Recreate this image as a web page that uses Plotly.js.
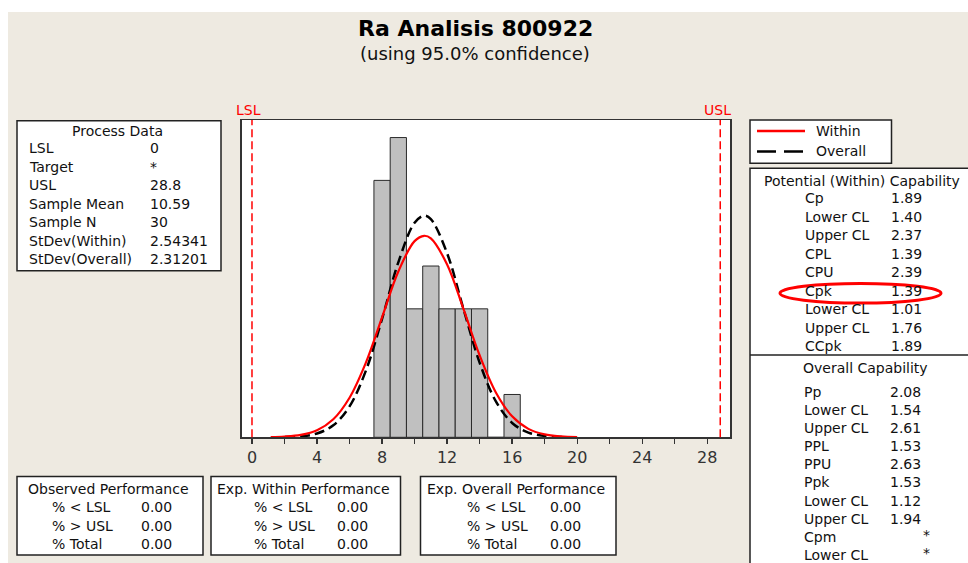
<!DOCTYPE html>
<html>
<head>
<meta charset="utf-8">
<script src="https://cdn.plot.ly/plotly-3.0.1.min.js"></script>
<style>html,body{margin:0;padding:0;background:#fff;}#chart{width:968px;height:563px;}</style>
</head>
<body>
<div id="chart"></div>
<script>
// ---------- data ----------
const chartTitle = 'Ra Analisis 800922';
const chartSubtitle = '(using 95.0% confidence)';

// histogram (bin centres, counts; bin width 1)
const binCenters = [8, 9, 10, 11, 12, 13, 14, 15, 16];
const binCounts  = [6, 7, 3, 4, 3, 3, 3, 0, 1];

// fitted curves (count scale)
const withinX = [1.15, 2, 3, 4, 5, 6, 7, 8, 9, 10, 10.59, 11, 12, 13, 14, 15, 16, 17, 18, 19, 20];
const withinY = [0.005, 0.016, 0.055, 0.164, 0.421, 0.924, 1.738, 2.802, 3.871, 4.581, 4.706, 4.645, 4.036, 3.004, 1.916, 1.047, 0.490, 0.197, 0.068, 0.020, 0.005];
const overallX = [2.03, 3, 4, 5, 6, 7, 8, 9, 10, 10.59, 11, 12, 13, 14, 15, 16, 17, 18, 19.05];
const overallY = [0.006, 0.024, 0.089, 0.279, 0.722, 1.551, 2.765, 4.087, 5.011, 5.177, 5.096, 4.298, 3.007, 1.745, 0.840, 0.335, 0.111, 0.031, 0.006];

// spec limits
const specNames  = ['LSL', 'USL'];
const specValues = [0, 28.8];

// x ticks
const xTickVals = [0, 4, 8, 12, 16, 20, 24, 28];

// legend
const legendNames = ['Within', 'Overall'];

// panels
const processTitle  = 'Process Data';
const processLabels = ['LSL', 'Target', 'USL', 'Sample Mean', 'Sample N', 'StDev(Within)', 'StDev(Overall)'];
const processValues = ['0', '*', '28.8', '10.59', '30', '2.54341', '2.31201'];

const potentialTitle  = 'Potential (Within) Capability';
const potentialLabels = ['Cp', 'Lower CL', 'Upper CL', 'CPL', 'CPU', 'Cpk', 'Lower CL', 'Upper CL', 'CCpk'];
const potentialValues = ['1.89', '1.40', '2.37', '1.39', '2.39', '1.39', '1.01', '1.76', '1.89'];

const overallTitle  = 'Overall Capability';
const overallLabels = ['Pp', 'Lower CL', 'Upper CL', 'PPL', 'PPU', 'Ppk', 'Lower CL', 'Upper CL', 'Cpm', 'Lower CL'];
const overallValues = ['2.08', '1.54', '2.61', '1.53', '2.63', '1.53', '1.12', '1.94', '*', '*'];

const perfTitles = ['Observed Performance', 'Exp. Within Performance', 'Exp. Overall Performance'];
const perfLabels = ['% &lt; LSL', '% &gt; USL', '% Total'];
const perfObserved = ['0.00', '0.00', '0.00'];
const perfWithin   = ['0.00', '0.00', '0.00'];
const perfOverall  = ['0.00', '0.00', '0.00'];

// ---------- layout helpers ----------
const W = 968, H = 563;
const px = x => x / W;
const py = y => 1 - y / H;
const FONT = 'DejaVu Sans, Verdana, sans-serif';
const BG = '#EEEAE1';
const TXT = '#111';

const plotL = 241.7, plotR = 730, plotT = 120, plotB = 437.3;

const shapes = [];
const annotations = [];

function box(x0, y0, x1, y1) {
  shapes.push({type: 'rect', xref: 'paper', yref: 'paper', x0: px(x0), x1: px(x1), y0: py(y1), y1: py(y0),
    line: {color: '#222', width: 1.5}, fillcolor: '#fff', layer: 'below'});
}
function txt(x, y, t, anchor, size, extra) {
  annotations.push(Object.assign({xref: 'paper', yref: 'paper', x: px(x), y: py(y), text: t, showarrow: false,
    xanchor: anchor || 'left', yanchor: 'middle', font: {family: FONT, size: size || 14, color: TXT}}, extra || {}));
}

// white page strips outside the beige panel
shapes.push({type: 'rect', xref: 'paper', yref: 'paper', x0: 0, x1: 1, y0: py(12), y1: 1, line: {width: 0}, fillcolor: '#fff', layer: 'below'});
shapes.push({type: 'rect', xref: 'paper', yref: 'paper', x0: 0, x1: px(8), y0: 0, y1: 1, line: {width: 0}, fillcolor: '#fff', layer: 'below'});

// titles
txt(475, 29, chartTitle, 'center', 22, {font: {family: FONT, size: 22, color: '#000', weight: 'bold'}});
txt(475, 53, chartSubtitle, 'center', 18);

// spec limit lines and labels
specValues.forEach((v, i) => {
  shapes.push({type: 'line', xref: 'x', yref: 'paper', x0: v, x1: v, y0: py(plotB), y1: py(plotT),
    line: {color: '#FF0000', width: 1.5, dash: '8px,4px'}});
  annotations.push({xref: 'x', yref: 'paper', x: v, y: py(110), text: specNames[i], showarrow: false,
    xanchor: 'center', yanchor: 'middle', xshift: -3, font: {family: FONT, size: 14, color: '#FF0000'}});
});

// Process data box
box(17, 120.7, 221, 270.7);
txt(117, 130.5, processTitle, 'center');
processLabels.forEach((l, i) => {
  const y = 148.3 + i * 18.5;
  txt(27, y, l);
  txt(148, y, processValues[i]);
});

// legend box
box(750, 120, 891.5, 163.3);
shapes.push({type: 'line', xref: 'paper', yref: 'paper', x0: px(757), x1: px(805), y0: py(131), y1: py(131), line: {color: '#FF0000', width: 2.5}});
shapes.push({type: 'line', xref: 'paper', yref: 'paper', x0: px(757), x1: px(805), y0: py(151.5), y1: py(151.5), line: {color: '#000', width: 2.5, dash: '19px,8px'}});
txt(814, 131, legendNames[0]);
txt(814, 151.5, legendNames[1]);

// capability panel (extends off page)
box(750, 168.3, 980, 580);
shapes.push({type: 'line', xref: 'paper', yref: 'paper', x0: px(750), x1: px(980), y0: py(355), y1: py(355), line: {color: '#222', width: 1.5}});
txt(762, 180.7, potentialTitle);
potentialLabels.forEach((l, i) => {
  const y = 198.3 + i * 18.5;
  txt(803, y, l);
  txt(889, y, potentialValues[i]);
});
txt(865, 368.3, overallTitle, 'center');
overallLabels.forEach((l, i) => {
  const y = 391.7 + i * 18.15;
  txt(802, y, l);
  if (overallValues[i] === '*') txt(926, y - 2, overallValues[i], 'center');
  else txt(888, y, overallValues[i]);
});
// highlight ellipse around Cpk
shapes.push({type: 'circle', xref: 'paper', yref: 'paper', x0: px(780), x1: px(941), y0: py(303), y1: py(283.5),
  line: {color: '#FF0000', width: 3}});

// performance boxes
const perfBoxes = [[17, 203], [211, 400.5], [420.5, 616]];
const perfLabelX = [50, 251.5, 465];
const perfValueX = [139, 334.5, 548];
const perfVals = [perfObserved, perfWithin, perfOverall];
perfBoxes.forEach((b, k) => {
  box(b[0], 476.5, b[1], 555);
  txt((b[0] + b[1]) / 2 - 2, 489, perfTitles[k], 'center');
  perfLabels.forEach((l, i) => {
    const y = 507 + i * 18.5;
    txt(perfLabelX[k], y, l);
    txt(perfValueX[k], y, perfVals[k][i]);
  });
});

// ---------- traces ----------
const traces = [
  {type: 'bar', x: binCenters, y: binCounts, width: 1,
   marker: {color: '#C0C0C0', line: {color: '#2a2a2a', width: 1}}, hoverinfo: 'x+y'},
  {type: 'scatter', mode: 'lines', x: overallX, y: overallY, name: legendNames[1],
   line: {color: '#000', width: 2.5, dash: '10px,5px', shape: 'spline', smoothing: 1}},
  {type: 'scatter', mode: 'lines', x: withinX, y: withinY, name: legendNames[0],
   line: {color: '#FF0000', width: 2.2, shape: 'spline', smoothing: 1}}
];

const layout = {
  width: W, height: H,
  margin: {l: 0, r: 0, t: 0, b: 0, pad: 0},
  paper_bgcolor: BG, plot_bgcolor: '#fff',
  showlegend: false,
  bargap: 0,
  xaxis: {
    domain: [px(plotL), px(plotR)], range: [-0.633, 29.4],
    tickmode: 'array', tickvals: xTickVals,
    ticks: 'outside', ticklen: 5, tickwidth: 1.3, tickcolor: '#333',
    minor: {tickmode: 'linear', tick0: 0, dtick: 2, ticks: 'outside', ticklen: 5, tickwidth: 1.3, tickcolor: '#333', showgrid: false},
    showgrid: false, zeroline: false,
    showline: true, mirror: true, linecolor: '#333', linewidth: 1.5,
    tickfont: {family: FONT, size: 16, color: '#333'},
    fixedrange: true
  },
  yaxis: {
    domain: [py(plotB), py(plotT)], range: [0, 7.41],
    showticklabels: false, ticks: '', showgrid: false, zeroline: false,
    showline: true, mirror: true, linecolor: '#333', linewidth: 1.5,
    fixedrange: true
  },
  shapes: shapes,
  annotations: annotations
};

Plotly.newPlot('chart', traces, layout, {displayModeBar: false, staticPlot: true});
</script>
</body>
</html>
